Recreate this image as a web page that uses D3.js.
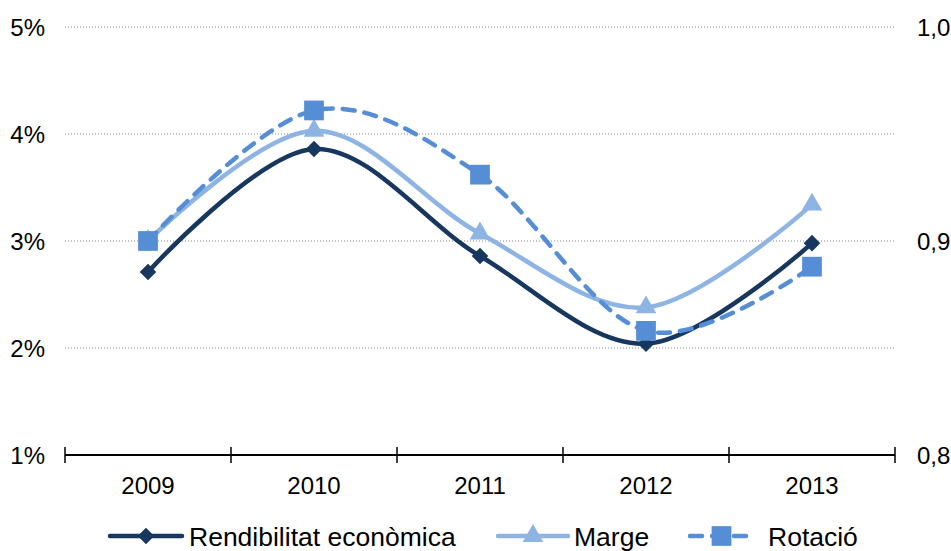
<!DOCTYPE html>
<html>
<head>
<meta charset="utf-8">
<script src="https://cdn.jsdelivr.net/npm/d3@7"></script>
<style>
  body { margin: 0; background: #fff; }
  svg { font-family: "Liberation Sans", Arial, sans-serif; }
</style>
</head>
<body>
<div id="chart"></div>
<script>
// categories and series
var years = ["2009", "2010", "2011", "2012", "2013"];
var rendibilitat = [2.71, 3.86, 2.86, 2.04, 2.98];   // % (left axis)
var marge = [3.00, 4.03, 3.07, 2.38, 3.34];          // % (left axis)
var rotacio = [0.900, 0.961, 0.931, 0.858, 0.888];   // right axis

var leftTicks = [1, 2, 3, 4, 5];
var rightTicks = [0.8, 0.9, 1.0];

var width = 951, height = 551;
var margin = {top: 27, right: 56, bottom: 96, left: 65};
var fontSize = 24;

var svg = d3.select("#chart").append("svg")
  .attr("width", width)
  .attr("height", height);

var x = d3.scaleBand()
  .domain(years)
  .range([margin.left, width - margin.right]);

var yL = d3.scaleLinear()
  .domain([1, 5])
  .range([height - margin.bottom, margin.top]);

var yR = d3.scaleLinear()
  .domain([0.8, 1.0])
  .range([height - margin.bottom, margin.top]);

// gridlines (dotted)
svg.append("g")
  .selectAll("line")
  .data(leftTicks.filter(d => d > 1))
  .enter()
  .append("line")
  .attr("x1", margin.left)
  .attr("x2", width - margin.right)
  .attr("y1", d => yL(d))
  .attr("y2", d => yL(d))
  .style("stroke", "#868686")
  .style("stroke-width", 1)
  .style("stroke-dasharray", "1,2");

// left labels
svg.append("g")
  .selectAll("text")
  .data(leftTicks)
  .enter()
  .append("text")
  .attr("x", 45)
  .attr("y", d => yL(d) + 8.5)
  .attr("text-anchor", "end")
  .style("font-size", fontSize + "px")
  .text(d => d + "%");

// right labels
svg.append("g")
  .selectAll("text")
  .data(rightTicks)
  .enter()
  .append("text")
  .attr("x", 917)
  .attr("y", d => yR(d) + 8.5)
  .style("font-size", fontSize + "px")
  .text(d => d3.format(".1f")(d).replace(".", ","));

// x axis
var xAxisG = svg.append("g")
  .attr("transform", "translate(0," + yL(1) + ")");

xAxisG.append("line")
  .attr("x1", margin.left)
  .attr("x2", width - margin.right)
  .style("stroke", "#000")
  .style("stroke-width", 2);

var tickPos = years.map(d => x(d)).concat([width - margin.right]);
xAxisG.selectAll(".tk")
  .data(tickPos)
  .enter()
  .append("line")
  .attr("class", "tk")
  .attr("x1", d => d)
  .attr("x2", d => d)
  .attr("y1", -8)
  .attr("y2", 8)
  .style("stroke", "#000")
  .style("stroke-width", 1.5);

xAxisG.selectAll("text")
  .data(years)
  .enter()
  .append("text")
  .attr("x", d => x(d) + x.bandwidth() / 2)
  .attr("y", 39)
  .attr("text-anchor", "middle")
  .style("font-size", fontSize + "px")
  .text(d => d);

var cx = (d, i) => x(years[i]) + x.bandwidth() / 2;

var series = [
  {name: "Rendibilitat econòmica", values: rendibilitat, scale: yL, color: "#17375E", dash: null, marker: "diamond"},
  {name: "Marge", values: marge, scale: yL, color: "#8EB4E3", dash: null, marker: "triangle"},
  {name: "Rotació", values: rotacio, scale: yR, color: "#558ED5", dash: "12,10", marker: "square"}
];

function markerPath(type) {
  if (type == "diamond") return d3.symbol().type(d3.symbolDiamond2).size(175)();
  if (type == "triangle") return d3.symbol().type(d3.symbolTriangle).size(185)();
  return d3.symbol().type(d3.symbolSquare).size(390)();
}

// series drawn in order, later ones on top
series.forEach(function(s) {
  var line = d3.line()
    .x(cx)
    .y(d => s.scale(d))
    .curve(d3.curveCatmullRom.alpha(0));

  svg.append("path")
    .datum(s.values)
    .attr("d", line)
    .style("fill", "none")
    .style("stroke", s.color)
    .style("stroke-width", 4.5)
    .style("stroke-linecap", "round")
    .style("stroke-dasharray", s.dash);

  svg.append("g")
    .selectAll("path")
    .data(s.values)
    .enter()
    .append("path")
    .attr("transform", (d, i) => "translate(" + cx(d, i) + "," + s.scale(d) + ")")
    .attr("d", markerPath(s.marker))
    .style("fill", s.color);
});

// legend
var legend = [
  {s: series[0], x0: 110, x1: 182, tx: 189},
  {s: series[1], x0: 498, x1: 568, tx: 574},
  {s: series[2], x0: 690, x1: 753, tx: 768}
];
var ly = 536;
legend.forEach(function(l) {
  var g = svg.append("g");
  g.append("line")
    .attr("x1", l.x0)
    .attr("x2", l.x1)
    .attr("y1", ly)
    .attr("y2", ly)
    .style("stroke", l.s.color)
    .style("stroke-width", 4.5)
    .style("stroke-linecap", "round")
    .style("stroke-dasharray", l.s.dash);
  g.append("path")
    .attr("transform", "translate(" + (l.x0 + l.x1) / 2 + "," + ly + ")")
    .attr("d", markerPath(l.s.marker))
    .style("fill", l.s.color);
  g.append("text")
    .attr("x", l.tx)
    .attr("y", ly + 9.5)
    .style("font-size", "26.5px")
    .text(l.s.name);
});
</script>
</body>
</html>
